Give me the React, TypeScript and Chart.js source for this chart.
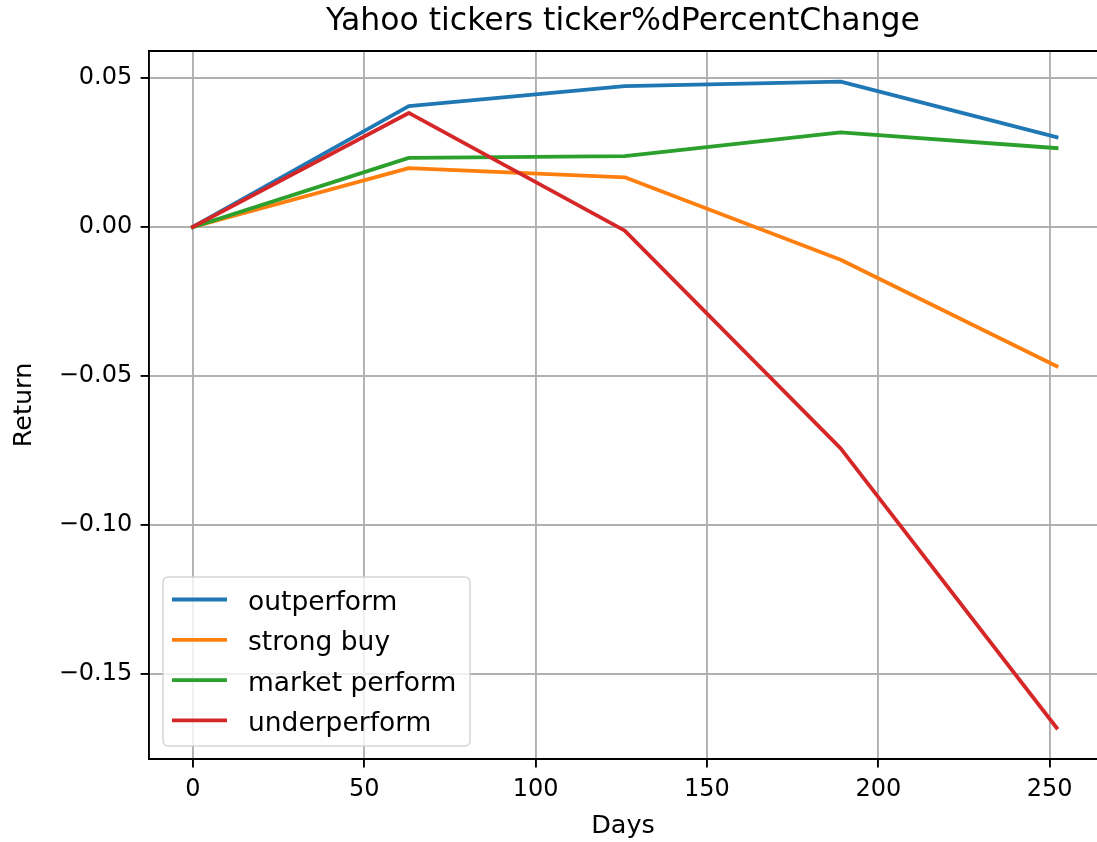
import React, { useEffect, useRef } from "react";
import { Chart, registerables } from "chart.js";

Chart.register(...registerables);

const days = [0, 63, 126, 189, 252];
const outperform = [0, 0.0406, 0.0473, 0.0488, 0.0302];
const strongBuy = [0, 0.0198, 0.0167, -0.011, -0.0467];
const marketPerform = [0, 0.0232, 0.0238, 0.0318, 0.0265];
const underperform = [0, 0.0383, -0.0012, -0.0743, -0.1681];

const seriesNames = ["outperform", "strong buy", "market perform", "underperform"];
const seriesColors = ["#1f77b4", "#ff7f0e", "#2ca02c", "#d62728"];
const seriesValues = [outperform, strongBuy, marketPerform, underperform];

const titleText = "Yahoo tickers ticker%dPercentChange";
const xTitle = "Days";
const yTitle = "Return";

const FONT = "'DejaVu Sans', 'Liberation Sans', sans-serif";

const fmtY = (v: number) => {
  const val = Math.abs(v) < 1e-9 ? 0 : v;
  return val.toFixed(2).replace("-", "\u2212");
};

const topSpine = {
  id: "topSpine",
  afterDraw(chart: any) {
    const { ctx, chartArea } = chart;
    ctx.save();
    ctx.strokeStyle = "#000";
    ctx.lineWidth = 1.9;
    ctx.beginPath();
    ctx.moveTo(chartArea.left - 1, chartArea.top);
    ctx.lineTo(chartArea.right + 2, chartArea.top);
    ctx.stroke();
    ctx.restore();
  },
};

const mplLegend = {
  id: "mplLegend",
  afterDraw(chart: any) {
    const { ctx, chartArea } = chart;
    const x = chartArea.left + 14;
    const w = 307;
    const h = 169;
    const y = chartArea.bottom - 13 - h;
    const r = 5;
    ctx.save();
    ctx.beginPath();
    ctx.moveTo(x + r, y);
    ctx.lineTo(x + w - r, y);
    ctx.arcTo(x + w, y, x + w, y + r, r);
    ctx.lineTo(x + w, y + h - r);
    ctx.arcTo(x + w, y + h, x + w - r, y + h, r);
    ctx.lineTo(x + r, y + h);
    ctx.arcTo(x, y + h, x, y + h - r, r);
    ctx.lineTo(x, y + r);
    ctx.arcTo(x, y, x + r, y, r);
    ctx.closePath();
    ctx.fillStyle = "rgba(255,255,255,0.8)";
    ctx.fill();
    ctx.strokeStyle = "rgba(204,204,204,0.8)";
    ctx.lineWidth = 1.5;
    ctx.stroke();

    chart.data.datasets.forEach((ds: any, i: number) => {
      const rowY = y + 22.5 + i * 40.3;
      ctx.strokeStyle = ds.borderColor;
      ctx.lineWidth = 3.8;
      ctx.lineCap = "butt";
      ctx.beginPath();
      ctx.moveTo(x + 9, rowY);
      ctx.lineTo(x + 64, rowY);
      ctx.stroke();
      ctx.fillStyle = "#000";
      ctx.font = `26.5px ${FONT}`;
      ctx.textBaseline = "alphabetic";
      ctx.textAlign = "left";
      ctx.fillText(ds.label, x + 85, rowY + 10.5);
    });
    ctx.restore();
  },
};

export default function App() {
  const ref = useRef<HTMLCanvasElement | null>(null);

  useEffect(() => {
    if (!ref.current) return;
    const chart = new Chart(ref.current, {
      type: "line",
      data: {
        datasets: seriesNames.map((name, i) => ({
          label: name,
          data: days.map((d, j) => ({ x: d, y: seriesValues[i][j] })),
          borderColor: seriesColors[i],
          backgroundColor: seriesColors[i],
          borderWidth: 3.8,
          borderCapStyle: "square",
          borderJoinStyle: "round",
          pointRadius: 0,
          tension: 0,
          fill: false,
          order: seriesNames.length - i,
        })),
      },
      options: {
        animation: false,
        responsive: false,
        maintainAspectRatio: false,
        layout: { padding: 0 },
        plugins: {
          legend: { display: false },
          tooltip: { enabled: false },
          title: {
            display: true,
            text: titleText,
            fullSize: false,
            color: "#000",
            font: { family: FONT, size: 31.5, weight: "normal", lineHeight: 1.2 },
            padding: { top: 3, bottom: 10.2 },
          },
        },
        scales: {
          x: {
            type: "linear",
            min: -12.8,
            max: 263.8,
            afterFit: (s: any) => {
              s.height = 83;
            },
            ticks: {
              stepSize: 50,
              includeBounds: false,
              autoSkip: false,
              maxRotation: 0,
              color: "#000",
              padding: 8,
              font: { family: FONT, size: 24 },
              callback: (v: any) => String(Math.round(Number(v))),
            },
            grid: {
              color: "#b0b0b0",
              lineWidth: 1.9,
              tickColor: "#000",
              tickWidth: 1.9,
              tickLength: 8.4,
            },
            border: { color: "#000", width: 1.9 },
            title: {
              display: true,
              text: xTitle,
              color: "#000",
              font: { family: FONT, size: 25.5, lineHeight: 1.2 },
              padding: { top: 0, bottom: 0 },
            },
          },
          y: {
            type: "linear",
            min: -0.1786,
            max: 0.0591,
            afterFit: (s: any) => {
              s.width = 149;
            },
            ticks: {
              stepSize: 0.05,
              includeBounds: false,
              autoSkip: false,
              color: "#000",
              padding: 8.4,
              font: { family: FONT, size: 24 },
              callback: (v: any) => fmtY(Number(v)),
            },
            grid: {
              color: "#b0b0b0",
              lineWidth: 1.9,
              tickColor: "#000",
              tickWidth: 1.9,
              tickLength: 8.4,
            },
            border: { color: "#000", width: 1.9 },
            title: {
              display: true,
              text: yTitle,
              color: "#000",
              font: { family: FONT, size: 25.5, lineHeight: 1.2 },
              padding: { top: 9, bottom: 0 },
            },
          },
        },
      },
      plugins: [topSpine, mplLegend],
    });
    return () => chart.destroy();
  }, []);

  return (
    <div style={{ position: "absolute", left: 0, top: 0, width: 1097, height: 842, background: "#fff" }}>
      <canvas ref={ref} width={1097} height={842} style={{ display: "block", width: 1097, height: 842 }} />
    </div>
  );
}
